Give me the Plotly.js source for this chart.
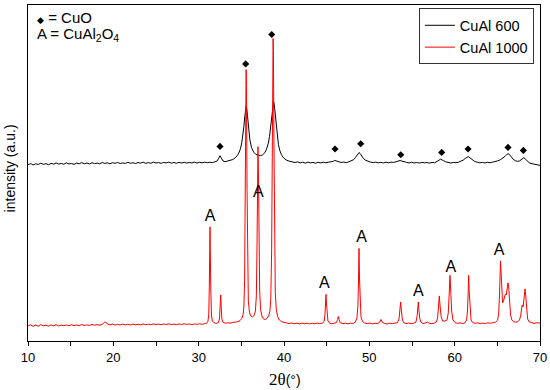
<!DOCTYPE html>
<html>
<head>
<meta charset="utf-8">
<script src="https://cdn.plot.ly/plotly-3.0.1.min.js"></script>
<style>html,body{margin:0;padding:0;background:#fff;}#chart{width:550px;height:390px;}</style>
</head>
<body>
<div id="chart"></div>
<script>
// ---- CuAl 600 (black) ----
const cual600_2theta = [
10.0,10.3,10.6,10.9,11.2,11.5,11.8,12.1,12.4,12.7,13.0,13.3,13.6,13.9,14.2,14.5,14.8,15.1,15.4,15.7,
16.0,16.3,16.6,16.9,17.2,17.5,17.8,18.1,18.4,18.7,19.0,19.3,19.6,19.9,20.2,20.5,20.8,21.1,21.4,21.7,
22.0,22.3,22.6,22.9,23.2,23.5,23.8,24.1,24.4,24.7,25.0,25.3,25.6,25.9,26.2,26.5,26.8,27.1,27.4,27.7,
28.0,28.3,28.6,28.9,29.2,29.5,29.8,30.1,30.4,30.7,31.0,31.3,31.6,31.9,
32.15,32.35,32.5,32.65,32.85,33.1,33.4,33.7,34.0,34.25,34.5,34.7,34.9,35.05,35.2,35.3,35.4,35.5,35.57,35.65,
35.75,35.85,36.0,36.2,36.45,36.7,37.0,37.25,37.5,37.75,37.95,38.15,38.3,38.45,38.58,38.7,38.78,38.86,38.95,39.05,
39.2,39.35,39.5,39.7,39.95,40.25,40.6,41.0,
41.3,41.6,41.9,42.2,42.5,42.8,43.1,43.4,43.7,44.0,44.3,44.6,44.9,45.2,
45.5,45.75,45.95,46.15,46.4,46.7,47.0,47.3,
47.6,47.9,48.15,48.35,48.55,48.7,48.8,48.92,49.1,49.3,49.55,49.85,50.15,50.45,50.75,51.05,51.35,51.65,51.95,52.25,
52.55,52.85,53.15,53.4,53.6,53.8,54.05,54.35,54.65,54.95,55.25,55.55,55.85,56.15,56.45,56.75,57.05,57.35,57.65,57.95,
58.15,58.35,58.5,58.7,58.95,59.25,59.55,59.85,60.15,60.45,60.75,61.0,61.25,61.45,61.6,61.8,62.05,62.35,62.65,62.95,
63.25,63.55,63.85,64.15,64.45,64.75,65.05,65.35,65.65,65.9,66.1,66.25,66.4,66.6,66.85,67.1,67.35,67.6,67.8,67.95,
68.1,68.25,68.45,68.7,68.95,69.25,69.55,69.8,70.0
];
const cual600_intensity = [
176.0,177.2,175.8,176.9,176.3,177.5,176.4,177.1,176.0,177.4,176.6,177.8,176.7,177.3,176.5,177.9,176.8,177.2,176.4,177.6,
177.0,178.1,176.9,177.7,176.8,178.0,177.1,177.6,176.9,178.2,177.3,177.9,177.0,178.1,177.4,178.3,177.2,177.9,177.3,178.4,
177.5,178.0,177.2,178.2,177.6,178.5,177.4,178.1,177.5,178.6,177.7,178.2,177.4,178.3,177.8,178.6,177.6,178.2,177.5,178.4,
177.7,178.5,177.6,178.3,177.8,178.6,177.7,178.4,177.9,178.6,178.0,178.5,178.1,178.7,
179.6,182.5,185.0,182.8,179.8,179.0,179.6,180.2,181.2,182.8,184.8,187.6,192.0,198,206,214,224,233,235,231,
222,212,201,193,188.5,186.3,185.2,185.0,185.9,188.0,191.5,197,204,214,226,236,239,236,228,218,
205,196,190.5,186,182.8,180.8,179.6,178.8,
178.2,178.9,177.8,178.5,177.6,178.6,177.9,178.3,177.5,178.4,177.8,178.6,178.0,178.5,
178.6,179.3,180.3,179.6,178.7,178.2,178.7,178.1,
178.9,179.8,181.0,183.0,185.8,187.6,188.2,187.2,184.6,182.3,180.5,179.3,178.6,178.1,178.6,177.9,178.4,177.8,178.5,177.9,
178.6,178.3,178.9,179.6,180.2,179.7,178.9,178.4,177.8,178.5,177.7,178.3,177.6,178.4,177.9,178.2,177.6,178.3,178.0,179.0,
180.4,181.6,181.2,180.0,178.9,178.2,177.7,178.3,178.0,178.6,179.3,180.6,182.4,183.8,184.1,182.8,180.8,179.3,178.5,177.9,
178.3,177.8,178.4,178.0,178.6,179.1,179.9,181.0,182.6,184.4,186.2,187.0,186.4,184.2,181.6,180.0,179.4,179.8,181.2,182.6,
183.0,182.0,180.0,178.2,177.2,176.6,176.0,175.6,175.4
];

// ---- CuAl 1000 (red) ----
const cual1000_2theta = [
10.0,10.3,10.6,10.9,11.2,11.5,11.8,12.1,12.4,12.7,13.0,13.3,13.6,13.9,14.2,14.5,14.8,15.1,15.4,15.7,
16.0,16.3,16.6,16.9,17.2,17.5,17.8,18.1,18.4,18.7,18.95,19.1,19.3,19.6,19.9,20.2,20.5,20.8,21.1,21.4,
21.7,22.0,22.3,22.6,22.9,23.2,23.5,23.8,24.1,24.4,24.7,25.0,25.3,25.6,25.9,26.2,26.5,26.8,27.1,27.4,
27.7,28.0,28.3,28.6,28.9,29.2,29.5,29.8,30.1,30.4,30.7,30.95,
31.08,31.18,31.25,31.33,31.41,31.49,31.6,31.8,32.05,32.3,32.44,32.51,32.58,32.65,32.72,32.85,33.1,33.4,33.7,34.0,
34.3,34.6,34.85,35.05,35.2,35.3,35.38,35.45,35.52,35.56,35.6,35.67,35.74,35.82,35.95,36.1,36.3,36.5,36.65,36.76,
36.84,36.9,36.95,37.0,37.07,37.15,37.25,37.4,37.6,37.8,38.0,38.2,38.35,38.45,38.55,38.62,38.68,38.72,38.76,38.82,
38.9,38.98,39.1,39.25,39.45,39.7,40.0,40.3,40.6,40.9,41.2,41.5,41.8,42.1,42.4,42.7,43.0,43.3,43.6,43.9,
44.2,44.5,44.7,44.8,44.86,44.92,44.98,45.05,45.15,45.35,45.6,45.9,46.15,46.28,46.37,46.46,46.6,46.9,47.2,47.5,
47.8,48.1,48.35,48.55,48.66,48.73,48.79,48.85,48.92,49.02,49.2,49.45,49.75,50.05,50.35,50.65,50.95,51.2,51.37,51.52,
51.8,52.1,52.4,52.7,53.0,53.3,53.48,53.58,53.67,53.76,53.86,54.0,54.3,54.6,54.9,55.2,55.45,55.6,55.68,55.74,
55.8,55.9,56.05,56.3,56.6,56.8,57.0,57.3,57.6,57.85,58.0,58.1,58.2,58.3,58.42,58.6,58.85,59.1,59.25,59.35,
59.45,59.55,59.65,59.8,60.05,60.35,60.65,60.95,61.2,61.4,61.5,61.58,61.64,61.7,61.8,61.92,62.1,62.4,62.7,63.0,
63.3,63.6,63.9,64.2,64.5,64.8,65.0,65.15,65.25,65.32,65.37,65.43,65.52,65.62,65.72,65.85,65.95,66.05,66.15,66.25,
66.33,66.42,66.55,66.7,66.9,67.15,67.4,67.6,67.75,67.85,67.93,68.02,68.1,68.18,68.25,68.33,68.43,68.55,68.75,69.0,
69.3,69.6,69.85,70.0
];
const cual1000_intensity = [
15.0,16.2,14.6,15.9,14.8,16.4,15.1,15.8,14.9,16.0,15.2,16.3,15.0,15.9,15.3,16.1,15.2,16.2,15.4,16.0,
15.3,16.4,15.5,16.1,15.6,16.5,15.7,16.3,15.8,16.6,18.6,19.0,17.0,16.2,16.8,15.9,16.6,16.0,16.8,16.1,
16.7,16.0,16.9,16.2,16.7,16.1,17.0,16.3,16.8,16.2,17.1,16.4,16.9,16.3,17.0,16.5,17.1,16.4,16.9,16.3,
17.0,16.5,17.2,16.6,17.0,16.4,17.1,16.6,17.2,16.7,17.4,17.8,
19.5,26,55,114,58,27,20,18.2,17.6,18.3,22,32,46,33,22,18.6,17.8,18.2,17.9,18.5,
18.8,19.3,20.4,22.5,26,34,60,140,250,271,255,150,70,40,29,25,24,25.5,30,45,
95,165,194,170,100,50,32,25,22,21.5,22.5,25,30,42,90,190,285,302,290,200,
95,48,31,24.5,21,19.4,18.6,18.0,17.4,18.0,17.2,17.8,17.1,17.9,17.3,17.8,17.0,17.7,17.2,18.0,
17.3,17.9,19.5,26,36,46.5,37,26,20,17.8,17.2,17.8,18.4,21.5,24.5,21.5,18.2,17.3,17.8,17.1,
17.8,17.6,18.8,23,35,60,92.5,62,36,24,19.5,18.0,17.3,17.9,17.1,17.7,17.4,18.5,21.5,18.6,
17.5,17.0,17.8,17.3,17.9,18.4,22,30,39,30,22,18.6,17.4,17.9,17.2,17.8,18.6,25,33,39,
32,23,18.6,17.5,18.0,19.0,17.7,17.3,17.9,19.0,23,32,45,34,24,20,19.8,21,28,45,
65.5,48,30,21,18.4,17.6,18.1,17.4,18.2,21,30,48,65.5,50,30,21,18.5,17.6,18.1,17.3,
17.9,17.4,18.2,17.6,18.3,18.9,20.5,26,45,70,80,70,48,38,40,45,47,46,52,58,
54,40,26,21,19.2,18.8,19.2,21,26,33,36,34,42,50,52,45,32,22,19.0,18.1,
17.5,18.2,17.6,18.0
];

// ---- phase markers ----
const cuo_2theta = [32.5, 35.51, 38.56, 45.98, 48.99, 53.68, 58.48, 61.57, 66.25, 68.05];
const cuo_markY  = [194.3, 276.7, 306, 191.7, 197, 186, 188.3, 191.7, 193.3, 190.3];
const spinel_2theta = [31.33, 36.99, 44.72, 49.1, 55.74, 59.54, 65.2];
const spinel_labelY = [123.7, 147.7, 56.7, 102.7, 49.3, 73.3, 90];
const seriesNames = ['CuAl 600', 'CuAl 1000'];

const traces = [
  {x: cual600_2theta, y: cual600_intensity, type: 'scatter', mode: 'lines', name: seriesNames[0],
   line: {color: '#000000', width: 1}},
  {x: cual1000_2theta, y: cual1000_intensity, type: 'scatter', mode: 'lines', name: seriesNames[1],
   line: {color: '#ff0000', width: 1}},
  {x: cuo_2theta, y: cuo_markY, type: 'scatter', mode: 'markers', showlegend: false, hoverinfo: 'skip',
   marker: {symbol: 'diamond', size: 5.5, color: '#000000'}},
  {x: spinel_2theta, y: spinel_labelY, type: 'scatter', mode: 'text', showlegend: false, hoverinfo: 'skip',
   text: spinel_2theta.map(() => 'A'), textposition: 'middle center',
   textfont: {family: 'Arial, Liberation Sans, sans-serif', size: 16, color: '#000000'}}
];

const layout = {
  width: 550, height: 390,
  margin: {l: 28, r: 10, t: 5, b: 49},
  paper_bgcolor: '#ffffff', plot_bgcolor: '#ffffff',
  font: {family: 'Arial, Liberation Sans, sans-serif', color: '#000000'},
  showlegend: true,
  legend: {x: 0.988, y: 0.99, xanchor: 'right', yanchor: 'top', bgcolor: '#ffffff',
    bordercolor: '#333333', borderwidth: 1, font: {size: 14.5, color: '#000000'},
    tracegroupgap: 0, itemwidth: 30},
  xaxis: {range: [10, 70], tick0: 10, dtick: 10, ticks: 'outside', ticklen: 4, tickwidth: 1,
    tickcolor: '#000000', minor: {dtick: 5, ticks: 'outside', ticklen: 4, tickwidth: 1, tickcolor: '#000000'},
    showline: true, linecolor: '#000000', linewidth: 1, mirror: true, showgrid: false, zeroline: false,
    tickfont: {size: 13, color: '#000000'}, fixedrange: true},
  yaxis: {range: [0, 335.5], showticklabels: false, ticks: '', showline: true, linecolor: '#000000',
    linewidth: 1, mirror: true, showgrid: false, zeroline: false, fixedrange: true},
  annotations: [
    {xref: 'paper', yref: 'paper', x: 0.502, y: -0.116, xanchor: 'center', yanchor: 'middle', showarrow: false,
     text: '<span style="font-family:\'Liberation Serif\',serif;font-size:17px">2θ</span>(°)',
     font: {size: 14, color: '#000000'}},
    {xref: 'paper', yref: 'paper', x: -0.035, y: 0.514, xanchor: 'center', yanchor: 'middle', showarrow: false,
     textangle: -90, text: 'intensity (a.u.)', font: {size: 14, color: '#000000'}},
    {xref: 'paper', yref: 'paper', x: 0.014, y: 0.964, xanchor: 'left', yanchor: 'middle', showarrow: false,
     text: '<span style="font-size:9px">◆</span> = CuO', font: {size: 15, color: '#000000'}},
    {xref: 'paper', yref: 'paper', x: 0.014, y: 0.912, xanchor: 'left', yanchor: 'middle', showarrow: false,
     text: 'A = CuAl<sub>2</sub>O<sub>4</sub>', font: {size: 15, color: '#000000'}}
  ]
};

Plotly.newPlot('chart', traces, layout, {displayModeBar: false, staticPlot: true});
</script>
</body>
</html>
